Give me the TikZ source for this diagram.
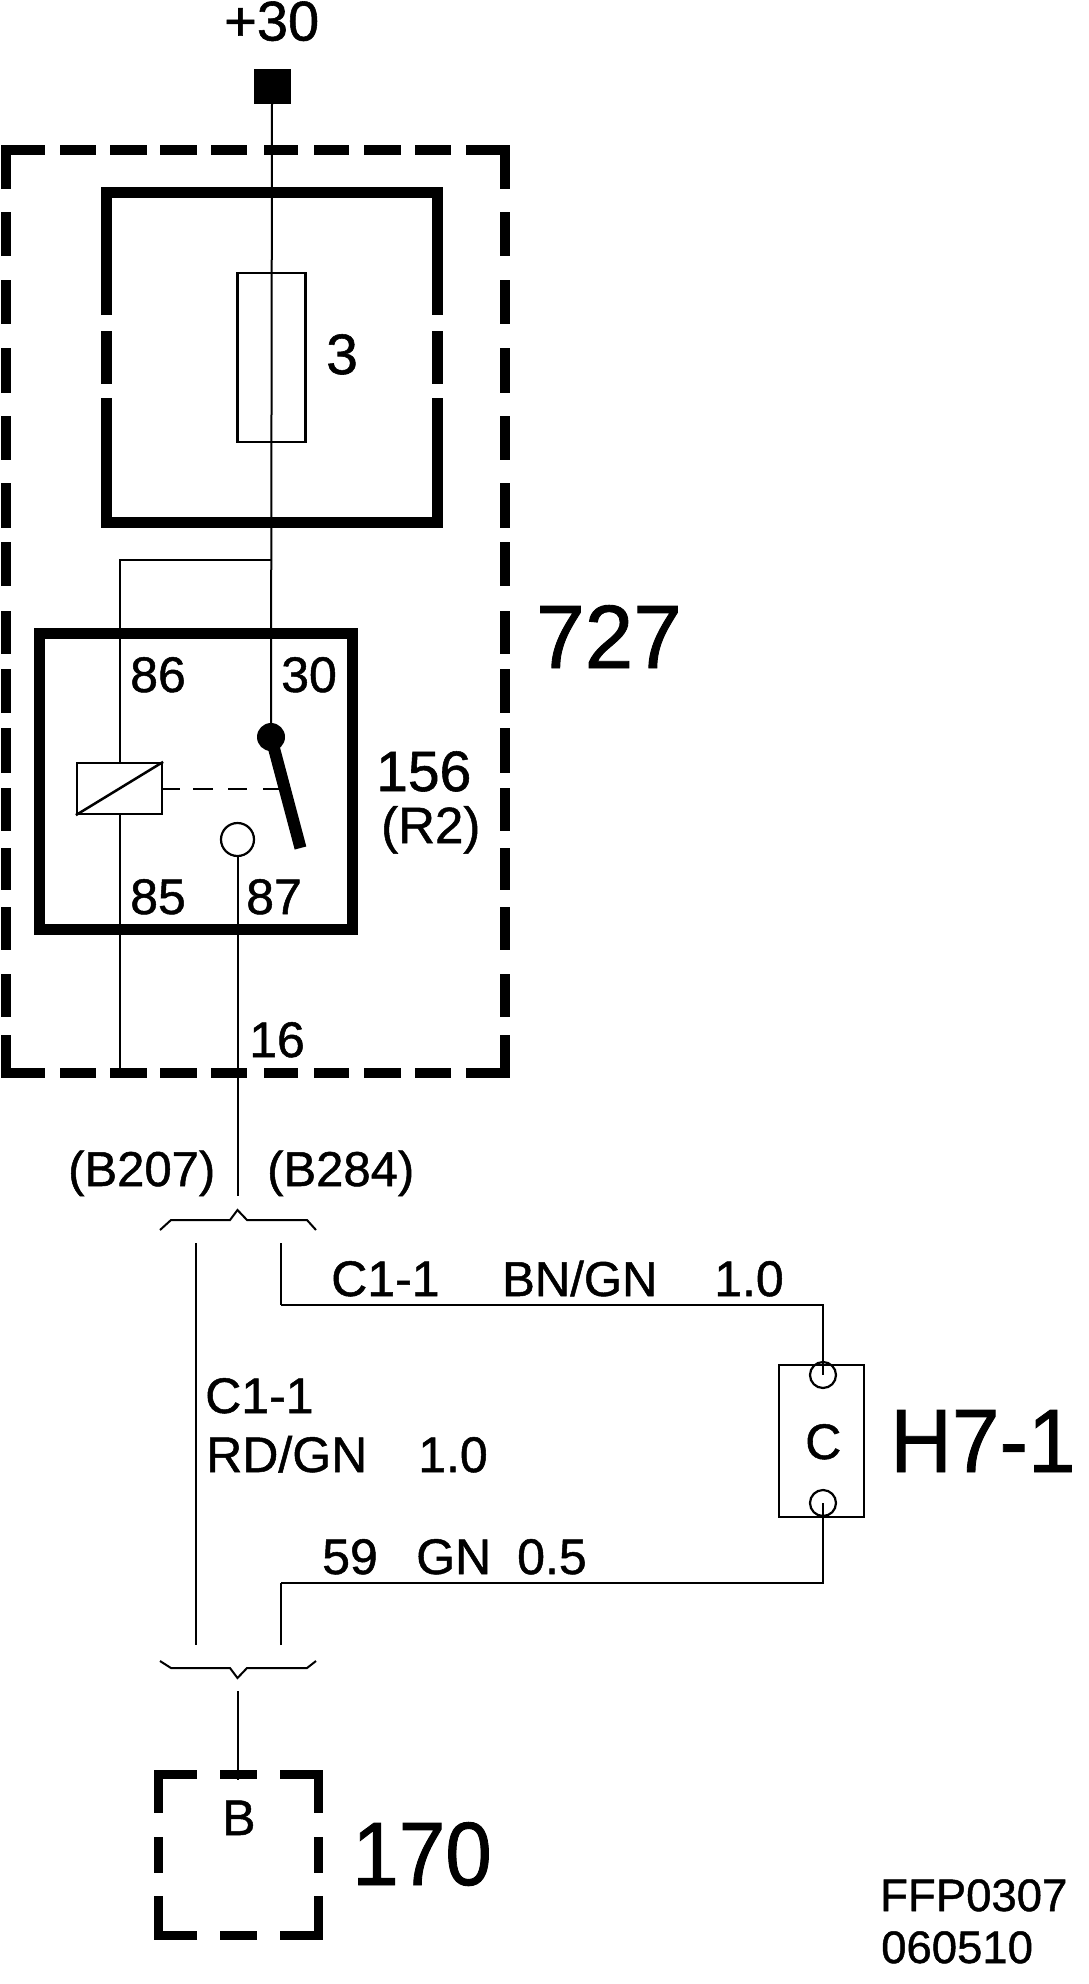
\documentclass[tikz,border=0pt]{standalone}
\usepackage{fontspec}
\setmainfont{Liberation Sans}[FakeBold=1]
\tikzset{
	wire/.style={line width=2pt},
	flatwire/.style={line width=2.7pt},
	thinwire/.style={line width=1.2pt},
	heavy/.style={line width=11pt},
	framed/.style={line width=10pt},
	part/.style={draw, line width=2.2pt, inner sep=0pt, fill=none},
	txt/.style={inner sep=0pt, anchor=base west, font=\fontsize{50}{50}\selectfont},
	midtxt/.style={inner sep=0pt, anchor=base west, font=\fontsize{57}{57}\selectfont},
	bigtxt/.style={inner sep=0pt, anchor=base west, font=\fontsize{90}{90}\selectfont},
	smalltxt/.style={inner sep=0pt, anchor=base west, font=\fontsize{45.5}{45.5}\selectfont}
}
\begin{document}
\begin{tikzpicture}[x=1pt,y=-1pt]
	\useasboundingbox (0,0) rectangle (1088,1984);

	% outer dashed frame
	\draw[framed] (5.5,189) -- (5.5,150) -- (45,150);
	\draw[framed] (466,150) -- (504.5,150) -- (504.5,189);
	\draw[framed] (5.5,1035) -- (5.5,1072.5) -- (45,1072.5);
	\draw[framed] (466,1072.5) -- (504.5,1072.5) -- (504.5,1035);
	\foreach \a/\b in {60/96,110/147,160/197,211/247,264/298,314/349,364/401,415/451}
	{
		\draw[framed] (\a,150) -- (\b,150);
		\draw[framed] (\a,1072.5) -- (\b,1072.5);
	}
	\foreach \a/\b in {212/256,280/324,348/393,416/460,483/528,542/586,611/654,669/713,728/773,788/831,848/890,907/950,974/1017}
	{
		\draw[framed] (5.5,\a) -- (5.5,\b);
		\draw[framed] (504.5,\a) -- (504.5,\b);
	}

	% fuse box
	\draw[heavy] (106.5,315) -- (106.5,192.5) -- (437.5,192.5) -- (437.5,315);
	\draw[heavy] (106.5,398) -- (106.5,522.5) -- (437.5,522.5) -- (437.5,398);
	\draw[heavy] (106.5,331) -- (106.5,384);
	\draw[heavy] (437.5,331) -- (437.5,384);

	% relay box
	\draw[heavy] (39.5,633) rectangle (352,929);

	% parts
	\node[fill=black, minimum width=37pt, minimum height=34.5pt, inner sep=0pt] (term) at (272.5,86.3) {};
	\node[part, minimum width=68pt, minimum height=169pt] (fuse) at (271.5,357.5) {};
	\node[part, minimum width=85pt, minimum height=51pt] (coil) at (119.5,788.5) {};
	\node[circle, fill=black, minimum size=28pt, inner sep=0pt] (pivot) at (271,737) {};
	\node[circle, part, minimum size=33pt] (open) at (237.5,839.5) {};
	\node[part, minimum width=85pt, minimum height=152pt] (lamp) at (821.5,1441) {};
	\node[circle, part, minimum size=26pt] (lampa) at (823,1375) {};
	\node[circle, part, minimum size=26pt] (lampb) at (823,1503) {};

	% free ends and bends
	\coordinate (split) at (272,559.5);
	\coordinate (frame86) at (120,559.5);
	\coordinate (coiltop) at (120,763);
	\coordinate (coilbot) at (120,814);
	\coordinate (frame85) at (120,1072);
	\coordinate (pin16) at (237.5,1196);
	\coordinate (leverend) at (300.5,848);
	\coordinate (rdtop) at (196,1243);
	\coordinate (rdbot) at (196,1645);
	\coordinate (bntop) at (281,1243);
	\coordinate (bnbend) at (281,1305);
	\coordinate (bnend) at (824,1305);
	\coordinate (gnbot) at (281,1645);
	\coordinate (gnbend) at (281,1583);
	\coordinate (gnend) at (824,1583);
	\coordinate (bstub) at (237.5,1691);
	\coordinate (bpin) at (237.5,1780);

	% wiring
	\draw[wire] (272,103) -- (pivot.north);
	\draw[wire] (split) -- (frame86) -- (coiltop);
	\draw[wire] (coilbot) -- (frame85);
	\draw[wire] (open.south) -- (pin16);
	\draw[line width=2.5pt] (coil.south west) -- (coil.north east);
	\draw[line width=12pt] (pivot.center) -- (leverend);
	\foreach \a/\b in {162/180,193/213,228/247,263/280}
		\draw[thinwire, line width=1.6pt] (\a,789) -- (\b,789);
	\draw[wire] (rdtop) -- (rdbot);
	\draw[wire] (bntop) -- (bnbend);
	\draw[flatwire] (bnbend) -- (bnend);
	\draw[thinwire] (823,1305) -- (lampa.center);
	\draw[wire] (gnbot) -- (gnbend);
	\draw[flatwire] (gnbend) -- (gnend);
	\draw[thinwire] (823,1583) -- (lampb.center);
	\draw[wire] (bstub) -- (bpin);

	% connector brackets
	\draw[wire] (160,1230) -- (171,1220) -- (230,1220) -- (237.5,1210) -- (247,1220) -- (307,1220) -- (316,1230);
	\draw[wire] (160,1661) -- (171,1668) -- (230,1668) -- (237.5,1678) -- (247,1668) -- (307,1668) -- (316,1661);

	% connector 170
	\draw[line width=9pt] (197,1774.5) -- (158.5,1774.5) -- (158.5,1813);
	\draw[line width=9pt] (280,1774.5) -- (318.5,1774.5) -- (318.5,1813);
	\draw[line width=9pt] (197,1935.5) -- (158.5,1935.5) -- (158.5,1896);
	\draw[line width=9pt] (280,1935.5) -- (318.5,1935.5) -- (318.5,1896);
	\draw[line width=9pt] (220,1774.5) -- (257,1774.5);
	\draw[line width=9pt] (220,1935.5) -- (257,1935.5);
	\draw[line width=9pt] (158.5,1837) -- (158.5,1873);
	\draw[line width=9pt] (318.5,1837) -- (318.5,1873);

	% labels
	\node[midtxt, font=\fontsize{56}{56}\selectfont] (lplus) at (224,40.5) {+30};
	\node[midtxt] (lfuse) at (326,374) {3};
	\node[bigtxt] (lbox) at (536,668) {\scalebox{0.97}[1]{727}};
	\node[txt] (l86) at (130,692) {86};
	\node[txt] (l30) at (281,692) {30};
	\node[txt] (l85) at (130,914) {85};
	\node[txt] (l87) at (246,914) {87};
	\node[txt] (l16) at (249,1057) {16};
	\node[midtxt] (lrelay) at (376,791) {156};
	\node[txt, font=\fontsize{51}{51}\selectfont] (lr2) at (381,843) {(R2)};
	\node[txt, font=\fontsize{49}{49}\selectfont] (lb207) at (68,1186) {(B207)};
	\node[txt, font=\fontsize{49}{49}\selectfont] (lb284) at (267,1186) {(B284)};
	\node[txt] (lc1a) at (331,1296) {C1-1};
	\node[txt, font=\fontsize{49}{49}\selectfont] (lbn) at (502,1296) {BN/GN};
	\node[txt] (lsza) at (714,1296) {1.0};
	\node[txt] (lc1b) at (205,1413) {C1-1};
	\node[txt] (lrd) at (206,1472) {RD/GN};
	\node[txt] (lszb) at (418,1472) {1.0};
	\node[txt] (l59) at (322,1574) {59};
	\node[txt] (lgn) at (416,1574) {GN};
	\node[txt] (lszc) at (517,1574) {0.5};
	\node[txt] (lc) at (805,1459) {C};
	\node[bigtxt] (llamp) at (890,1472) {\scalebox{0.95}[1]{H7-1}};
	\node[txt] (lbb) at (222,1835) {B};
	\node[bigtxt] (lcomp) at (352,1885) {\scalebox{0.93}[1]{170}};
	\node[smalltxt] (lcode) at (880,1911) {FFP0307};
	\node[smalltxt] (ldate) at (881,1963) {060510};
\end{tikzpicture}
\end{document}
